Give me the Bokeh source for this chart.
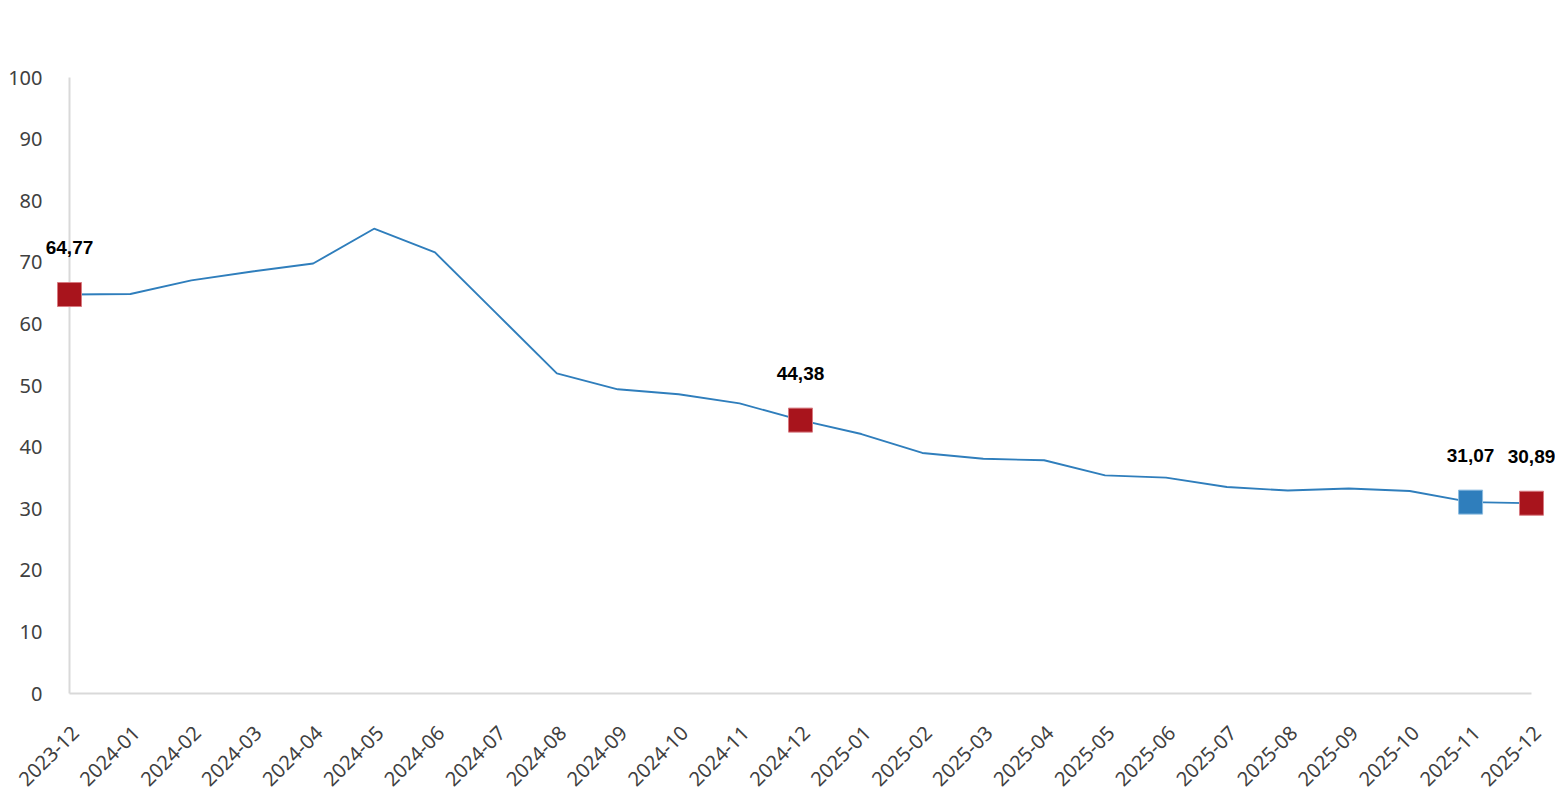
import math
from bokeh.plotting import figure
from bokeh.models import Range1d, ColumnDataSource, LabelSet
from bokeh.core.properties import value
from bokeh.embed import file_html
from bokeh.resources import INLINE

months = ["2023-12", "2024-01", "2024-02", "2024-03", "2024-04", "2024-05", "2024-06",
          "2024-07", "2024-08", "2024-09", "2024-10", "2024-11", "2024-12", "2025-01",
          "2025-02", "2025-03", "2025-04", "2025-05", "2025-06", "2025-07", "2025-08",
          "2025-09", "2025-10", "2025-11", "2025-12"]
values = [64.77, 64.86, 67.07, 68.50, 69.80, 75.45, 71.60, 61.78, 51.97, 49.38, 48.58,
          47.09, 44.38, 42.12, 39.05, 38.10, 37.86, 35.41, 35.05, 33.52, 32.95, 33.29,
          32.87, 31.07, 30.89]
red_idx = [0, 12, 24]
blue_idx = [23]
y_ticks = [0, 10, 20, 30, 40, 50, 60, 70, 80, 90, 100]

xs = list(range(len(months)))
n = len(months)

# The plotting frame covers the whole canvas so nothing is clipped;
# axes are drawn as lines + text labels.
p = figure(frame_width=1555, frame_height=798, output_backend="svg", toolbar_location=None,
           x_range=Range1d(-1.1327, 24.394), y_range=Range1d(-17.045, 112.5),
           min_border=0)
p.outline_line_color = None
p.xaxis.visible = False
p.yaxis.visible = False
p.xgrid.visible = False
p.ygrid.visible = False
p.background_fill_color = "white"
p.border_fill_color = "white"

# axis lines
axis_col = "#D9D9D9"
p.segment(x0=[0], y0=[0], x1=[0], y1=[y_ticks[-1]], line_color=axis_col, line_width=2)
p.segment(x0=[0], y0=[0], x1=[n - 1], y1=[0], line_color=axis_col, line_width=2)

# y tick labels
ysrc = ColumnDataSource(dict(x=[0] * len(y_ticks), y=y_ticks, t=[str(v) for v in y_ticks]))
p.add_layout(LabelSet(x="x", y="y", text="t", source=ysrc, text_align="right",
                      text_baseline="middle", x_offset=-27,
                      text_font=value("Noto Sans"), text_font_size="20px",
                      text_color="#404040"))

# x tick labels (rotated 45 degrees)
xsrc = ColumnDataSource(dict(x=xs, y=[0] * n, t=months))
p.add_layout(LabelSet(x="x", y="y", text="t", source=xsrc, text_align="right",
                      text_baseline="middle", angle=math.pi / 4, x_offset=6, y_offset=-36,
                      text_font=value("Noto Sans"), text_font_size="20px",
                      text_color="#404040"))

p.line(xs, values, line_color="#2F7EBC", line_width=1.9)

red_src = ColumnDataSource(dict(x=red_idx, y=[values[i] for i in red_idx],
                                t=[f"{values[i]:.2f}".replace(".", ",") for i in red_idx]))
blue_src = ColumnDataSource(dict(x=blue_idx, y=[values[i] for i in blue_idx],
                                 t=[f"{values[i]:.2f}".replace(".", ",") for i in blue_idx]))
p.scatter("x", "y", source=red_src, marker="square", size=24, fill_color="#A8141C",
          line_color="#D77A80", line_width=1)
p.scatter("x", "y", source=blue_src, marker="square", size=24, fill_color="#2F7EBC",
          line_color="#8DBCE0", line_width=1)

for src in (red_src, blue_src):
    p.add_layout(LabelSet(x="x", y="y", text="t", source=src, text_align="center",
                          text_baseline="middle", y_offset=47,
                          text_font=value("Liberation Sans"), text_font_style="bold",
                          text_font_size="19px", text_color="black"))

open("out.html", "w").write(file_html(p, INLINE))
